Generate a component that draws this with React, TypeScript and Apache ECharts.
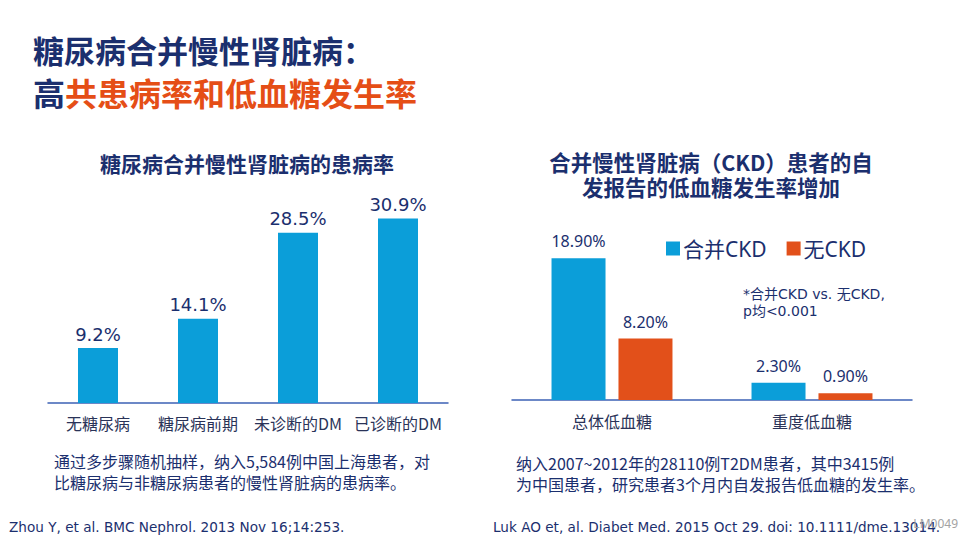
import React, { useEffect, useRef } from "react";
import * as echarts from "echarts";

const leftCategories = ["无糖尿病", "糖尿病前期", "未诊断的DM", "已诊断的DM"];
const leftValues = [9.2, 14.1, 28.5, 30.9];

const rightCategories = ["总体低血糖", "重度低血糖"];
const ckdValues = [18.9, 2.3];
const noCkdValues = [8.2, 0.9];
const seriesNames = ["合并CKD", "无CKD"];

const NAVY = "#1b2f6e";
const ORANGE = "#e54e16";
const BLUE = "#0b9ed9";
const BAR_ORANGE = "#e2501a";
const AXIS = "#3c62b5";
const CJK = "'Noto Sans CJK SC', 'Noto Sans', sans-serif";
const LATIN = "'DejaVu Sans', 'Noto Sans CJK SC', sans-serif";

export default function App() {
  const ref = useRef<HTMLDivElement>(null);
  useEffect(() => {
    document.body.style.margin = "0";
    if (!ref.current) return;
    const chart = echarts.init(ref.current, undefined, { renderer: "svg" });
    chart.setOption({
      animation: false,
      backgroundColor: "#ffffff",
      textStyle: { fontFamily: CJK },
      legend: {
        left: 661,
        top: 233,
        itemWidth: 14,
        itemHeight: 14,
        itemGap: 20,
        icon: "rect",
        data: seriesNames,
        textStyle: { fontSize: 21, color: NAVY, fontFamily: "'Noto Sans', 'Noto Sans CJK SC', sans-serif", padding: [0, 0, 0, -2] },
      },
      grid: [
        { left: 48, width: 400, top: 194, height: 209 },
        { left: 512, width: 400, top: 250, height: 150 },
      ],
      xAxis: [
        {
          type: "category",
          gridIndex: 0,
          data: leftCategories,
          axisLine: { lineStyle: { color: AXIS, width: 1.5 } },
          axisTick: { show: false },
          axisLabel: { interval: 0, fontSize: 16, color: "#2a3358", margin: 12, fontFamily: CJK },
        },
        {
          type: "category",
          gridIndex: 1,
          data: rightCategories,
          axisLine: { lineStyle: { color: AXIS, width: 1.5 } },
          axisTick: { show: false },
          axisLabel: { interval: 0, fontSize: 16, color: "#2a3358", margin: 13, fontFamily: CJK },
        },
      ],
      yAxis: [
        { type: "value", gridIndex: 0, min: 0, max: 35, show: false },
        { type: "value", gridIndex: 1, min: 0, max: 20, show: false },
      ],
      series: [
        {
          type: "bar",
          xAxisIndex: 0,
          yAxisIndex: 0,
          data: leftValues,
          barWidth: 40,
          itemStyle: { color: BLUE },
          label: {
            show: true,
            position: "top",
            distance: 5,
            fontSize: 18,
            color: NAVY,
            fontFamily: LATIN,
            formatter: (p: any) => p.value.toFixed(1) + "%",
          },
        },
        {
          name: seriesNames[0],
          type: "bar",
          xAxisIndex: 1,
          yAxisIndex: 1,
          data: ckdValues,
          barWidth: 54,
          barGap: "24%",
          itemStyle: { color: BLUE },
          label: {
            show: true,
            position: "top",
            distance: 9,
            fontSize: 16,
            color: NAVY,
            fontFamily: "'Noto Sans', sans-serif",
            formatter: (p: any) => p.value.toFixed(2) + "%",
          },
        },
        {
          name: seriesNames[1],
          type: "bar",
          xAxisIndex: 1,
          yAxisIndex: 1,
          data: noCkdValues,
          barWidth: 54,
          barGap: "24%",
          itemStyle: { color: BAR_ORANGE },
          label: {
            show: true,
            position: "top",
            distance: 9,
            fontSize: 16,
            color: NAVY,
            fontFamily: "'Noto Sans', sans-serif",
            formatter: (p: any) => p.value.toFixed(2) + "%",
          },
        },
      ],
      graphic: [
        {
          type: "text",
          left: 33,
          top: 34,
          style: { text: "糖尿病合并慢性肾脏病：", fontSize: 31, fontWeight: "bold", fill: NAVY, fontFamily: CJK },
        },
        {
          type: "text",
          left: 33,
          top: 76,
          style: {
            text: "{a|高}{b|共患病率和低血糖发生率}",
            rich: {
              a: { fontSize: 32, fontWeight: "bold", fill: NAVY, color: NAVY, fontFamily: CJK },
              b: { fontSize: 32, fontWeight: "bold", fill: ORANGE, color: ORANGE, fontFamily: CJK },
            },
          },
        },
        {
          type: "text",
          x: 247,
          y: 163,
          style: {
            text: "糖尿病合并慢性肾脏病的患病率",
            fontSize: 21,
            fontWeight: "bold",
            fill: NAVY,
            fontFamily: CJK,
            align: "center",
            verticalAlign: "middle",
          },
        },
        {
          type: "text",
          x: 711,
          y: 161,
          style: {
            text: "合并慢性肾脏病（CKD）患者的自",
            fontSize: 21.5,
            fontWeight: "bold",
            fill: NAVY,
            fontFamily: CJK,
            align: "center",
            verticalAlign: "middle",
          },
        },
        {
          type: "text",
          x: 711,
          y: 186,
          style: {
            text: "发报告的低血糖发生率增加",
            fontSize: 21.5,
            fontWeight: "bold",
            fill: NAVY,
            fontFamily: CJK,
            align: "center",
            verticalAlign: "middle",
          },
        },
        {
          type: "text",
          left: 743,
          top: 287,
          style: {
            text: "*合并CKD vs. 无CKD,",
            fontSize: 14,
            fill: NAVY,
            fontFamily: LATIN,
          },
        },
        {
          type: "text",
          left: 743,
          top: 304,
          style: {
            text: "p均<0.001",
            fontSize: 14,
            fill: NAVY,
            fontFamily: LATIN,
          },
        },
        {
          type: "text",
          left: 54,
          top: 453,
          style: {
            text: "通过多步骤随机抽样，纳入5,584例中国上海患者，对",
            fontSize: 16,
            fill: NAVY,
            fontFamily: CJK,
          },
        },
        {
          type: "text",
          left: 54,
          top: 474,
          style: {
            text: "比糖尿病与非糖尿病患者的慢性肾脏病的患病率。",
            fontSize: 16,
            fill: NAVY,
            fontFamily: CJK,
          },
        },
        {
          type: "text",
          left: 516,
          top: 455,
          style: {
            text: "纳入2007~2012年的28110例T2DM患者，其中3415例",
            fontSize: 16,
            fill: NAVY,
            fontFamily: CJK,
          },
        },
        {
          type: "text",
          left: 516,
          top: 476,
          style: {
            text: "为中国患者，研究患者3个月内自发报告低血糖的发生率。",
            fontSize: 16,
            fill: NAVY,
            fontFamily: CJK,
          },
        },
        {
          type: "text",
          left: 9,
          top: 520,
          style: {
            text: "Zhou Y, et al. BMC Nephrol. 2013 Nov 16;14:253.",
            fontSize: 13.6,
            fill: NAVY,
            fontFamily: "'DejaVu Sans', sans-serif",
          },
        },
        {
          type: "text",
          left: 493,
          top: 520,
          style: {
            text: "Luk AO et, al. Diabet Med. 2015 Oct 29. doi: 10.1111/dme.13014.",
            fontSize: 13.6,
            fill: NAVY,
            fontFamily: "'DejaVu Sans', sans-serif",
          },
        },
        {
          type: "text",
          right: 2,
          top: 517,
          style: {
            text: "LM0049",
            fontSize: 12,
            fill: "#a3a3a3",
            fontFamily: "'Noto Sans', sans-serif",
          },
        },
      ],
    });
    return () => chart.dispose();
  }, []);
  return <div ref={ref} style={{ width: 960, height: 540 }} />;
}
